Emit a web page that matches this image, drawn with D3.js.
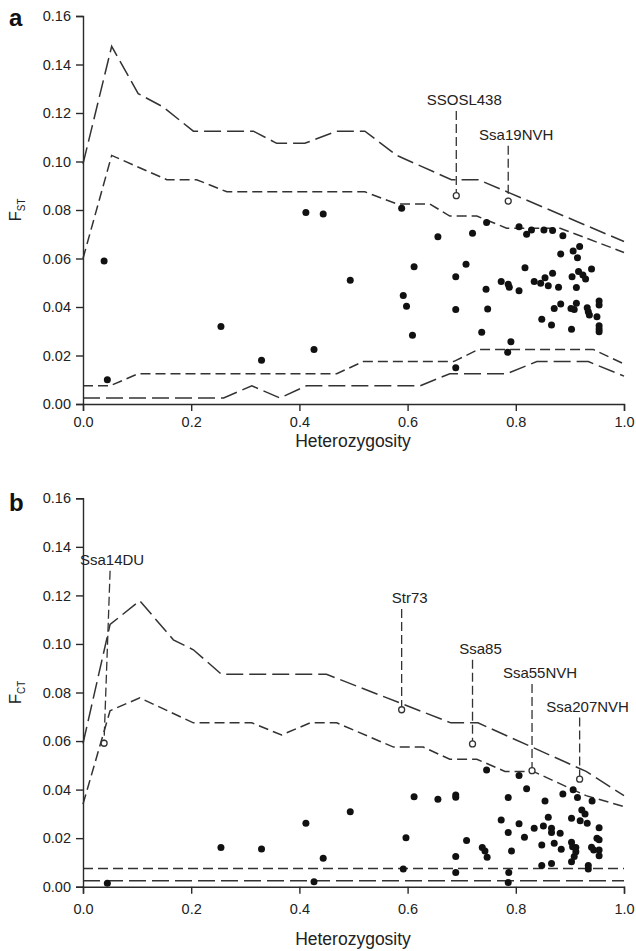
<!DOCTYPE html>
<html>
<head>
<meta charset="utf-8">
<script src="https://cdn.jsdelivr.net/npm/d3@7"></script>
<style>
body { margin: 0; background: #fff; }
svg text { font-family: "Liberation Sans", Arial, sans-serif; fill: #222; }
.axis path, .axis line { stroke: #2a2a2a; stroke-width: 1.4; }
.axis text { font-size: 14.5px; }
.thr { fill: none; stroke: #333; stroke-width: 1.5; }
.long { stroke-dasharray: 17,6; }
.short { stroke-dasharray: 10,5; }
.leader { stroke: #333; stroke-width: 1.3; stroke-dasharray: 9,4; }
</style>
</head>
<body>
<svg width="636" height="951"></svg>
<script>
// tick values
var xTicks = [0, 0.2, 0.4, 0.6, 0.8, 1.0];
var yTicks = [0, 0.02, 0.04, 0.06, 0.08, 0.10, 0.12, 0.14, 0.16];

// panel a: FST against heterozygosity
var hetA = [0.039, 0.045, 0.255, 0.330, 0.412, 0.427, 0.444, 0.494, 0.589, 0.592,
            0.598, 0.609, 0.612, 0.656, 0.689, 0.689, 0.689, 0.708, 0.720, 0.737,
            0.745, 0.746, 0.748, 0.773, 0.785, 0.786, 0.788, 0.791, 0.806, 0.806,
            0.817, 0.820, 0.829, 0.834, 0.846, 0.848, 0.852, 0.854, 0.860, 0.866,
            0.868, 0.868, 0.871, 0.879, 0.883, 0.883, 0.887, 0.902, 0.903, 0.904,
            0.906, 0.908, 0.912, 0.912, 0.914, 0.916, 0.918, 0.924, 0.929, 0.932,
            0.934, 0.936, 0.940, 0.950, 0.954, 0.954, 0.954, 0.954, 0.954];
var fstA = [0.0590, 0.0100, 0.0320, 0.0180, 0.0790, 0.0225, 0.0784, 0.0510, 0.0807, 0.0447,
            0.0403, 0.0283, 0.0566, 0.0690, 0.0525, 0.0390, 0.0150, 0.0576, 0.0704, 0.0296,
            0.0473, 0.0748, 0.0392, 0.0505, 0.0213, 0.0494, 0.0481, 0.0257, 0.0731, 0.0467,
            0.0562, 0.0700, 0.0718, 0.0505, 0.0498, 0.0350, 0.0718, 0.0521, 0.0488, 0.0326,
            0.0715, 0.0539, 0.0394, 0.0481, 0.0619, 0.0412, 0.0694, 0.0394, 0.0308, 0.0525,
            0.0631, 0.0390, 0.0480, 0.0415, 0.0603, 0.0546, 0.0649, 0.0532, 0.0515, 0.0397,
            0.0380, 0.0367, 0.0557, 0.0360, 0.0425, 0.0408, 0.0323, 0.0309, 0.0298];

var outlierNamesA = ["SSOSL438", "Ssa19NVH"];
var outlierHetA = [0.690, 0.786];
var outlierFstA = [0.0859, 0.0837];
var outlierLabelFstA = [0.1254, 0.1110];

// simulated quantile envelopes, panel a
var fstUpperLong = [[0, 0.099], [0.053, 0.1475], [0.102, 0.128], [0.148, 0.1225], [0.204, 0.1125],
  [0.315, 0.1125], [0.358, 0.1075], [0.41, 0.1075], [0.469, 0.1125], [0.521, 0.1125],
  [0.58, 0.1025], [0.681, 0.0925], [0.731, 0.0925], [1.0, 0.067]];
var fstUpperShort = [[0, 0.060], [0.053, 0.1025], [0.155, 0.0925], [0.21, 0.0925], [0.266, 0.0875],
  [0.521, 0.0875], [0.58, 0.0825], [0.641, 0.0825], [0.678, 0.0775], [0.728, 0.0775],
  [0.783, 0.0725], [0.882, 0.0725], [1.0, 0.0625]];
var fstLowerShort = [[0, 0.0075], [0.05, 0.0075], [0.102, 0.0125], [0.469, 0.0125], [0.518, 0.0175],
  [0.685, 0.0175], [0.731, 0.0225], [0.943, 0.0225], [1.0, 0.0165]];
var fstLowerLong = [[0, 0.0025], [0.26, 0.0025], [0.312, 0.0075], [0.364, 0.0025], [0.413, 0.0075],
  [0.623, 0.0075], [0.678, 0.0125], [0.783, 0.0125], [0.839, 0.0175], [0.934, 0.0175], [1.0, 0.0115]];

// panel b: FCT against heterozygosity
var hetB = [0.045, 0.255, 0.330, 0.412, 0.427, 0.444, 0.494, 0.592, 0.597, 0.612,
            0.656, 0.689, 0.689, 0.689, 0.689, 0.709, 0.738, 0.743, 0.747, 0.746,
            0.773, 0.786, 0.786, 0.792, 0.787, 0.786, 0.806, 0.806, 0.816, 0.820,
            0.834, 0.848, 0.848, 0.851, 0.854, 0.860, 0.866, 0.866, 0.866, 0.871,
            0.882, 0.884, 0.887, 0.903, 0.903, 0.903, 0.906, 0.908, 0.911, 0.911,
            0.914, 0.919, 0.922, 0.928, 0.932, 0.934, 0.934, 0.940, 0.941, 0.944,
            0.950, 0.954, 0.954, 0.954, 0.954, 0.905];
var fctB = [0.0014, 0.0161, 0.0155, 0.0261, 0.0020, 0.0117, 0.0309, 0.0073, 0.0202, 0.0371,
            0.0360, 0.0378, 0.0369, 0.0124, 0.0058, 0.0190, 0.0161, 0.0147, 0.0121, 0.0481,
            0.0275, 0.0367, 0.0223, 0.0147, 0.0059, 0.0017, 0.0458, 0.0259, 0.0204, 0.0403,
            0.0241, 0.0172, 0.0087, 0.0250, 0.0353, 0.0286, 0.0241, 0.0223, 0.0096, 0.0179,
            0.0220, 0.0154, 0.0382, 0.0282, 0.0183, 0.0103, 0.0399, 0.0124, 0.0161, 0.0144,
            0.0367, 0.0272, 0.0316, 0.0299, 0.0261, 0.0087, 0.0073, 0.0162, 0.0353, 0.0151,
            0.0200, 0.0193, 0.0243, 0.0151, 0.0127, 0.0165];

var outlierNamesB = ["Ssa14DU", "Str73", "Ssa85", "Ssa55NVH", "Ssa207NVH"];
var outlierHetB = [0.039, 0.589, 0.720, 0.830, 0.918];
var outlierFctB = [0.0591, 0.0729, 0.0588, 0.0478, 0.0443];
var outlierLabelFctB = [0.1347, 0.1189, 0.0980, 0.0880, 0.0742];

var fctUpperLong = [[0, 0.059], [0.05, 0.108], [0.105, 0.1178], [0.167, 0.1017], [0.204, 0.0976],
  [0.256, 0.0875], [0.45, 0.0875], [0.68, 0.0675], [0.73, 0.0675], [0.93, 0.0475], [1.0, 0.0375]];
var fctUpperShort = [[0, 0.034], [0.05, 0.0725], [0.105, 0.0778], [0.204, 0.0675], [0.312, 0.0675],
  [0.367, 0.0625], [0.42, 0.0675], [0.469, 0.0675], [0.574, 0.0575], [0.629, 0.0575],
  [0.678, 0.0525], [0.728, 0.0525], [0.78, 0.0475], [0.832, 0.0475], [0.93, 0.0375], [1.0, 0.033]];
var fctLowerShort = [[0, 0.0075], [1.0, 0.0075]];
var fctLowerLong = [[0, 0.0025], [1.0, 0.0025]];

var svg = d3.select("svg");

var x = d3.scaleLinear().domain([0, 1]).range([83, 624]);

function drawPanel(opt) {
  var y = d3.scaleLinear().domain([0, 0.16]).range([opt.bottom, opt.top]);
  var g = svg.append("g");

  var line = d3.line()
    .x(function(d) { return x(d[0]); })
    .y(function(d) { return y(d[1]); });

  opt.lines.forEach(function(l) {
    g.append("path")
      .attr("class", "thr " + l.kind)
      .attr("d", line(l.data));
  });

  // leaders and labels for outlier loci
  opt.names.forEach(function(name, i) {
    var cx = x(opt.oHet[i]), cy = y(opt.oVal[i]);
    var ly = y(opt.oLab[i]);
    // first leader (Ssa14DU) leans a little toward its label
    var topX = (opt.oHet[i] < 0.1) ? cx + 6 : cx;
    g.append("line")
      .attr("class", "leader")
      .attr("x1", topX).attr("x2", cx)
      .attr("y1", ly + 11).attr("y2", cy - 3);
    g.append("text")
      .attr("x", cx + 8)
      .attr("y", ly + 5)
      .attr("text-anchor", "middle")
      .style("font-size", "15px")
      .text(name);
    g.append("circle")
      .attr("cx", cx).attr("cy", cy).attr("r", 3)
      .attr("fill", "#fff").attr("stroke", "#333").attr("stroke-width", 1.3);
  });

  g.selectAll(".dot")
    .data(opt.het)
    .enter().append("circle")
    .attr("class", "dot")
    .attr("cx", function(d) { return x(d); })
    .attr("cy", function(d, i) { return y(opt.val[i]); })
    .attr("r", 3.5)
    .attr("fill", "#111");

  g.append("g")
    .attr("class", "axis")
    .attr("transform", "translate(83,0)")
    .call(d3.axisLeft(y).tickValues(yTicks).tickFormat(d3.format(".2f")).tickSize(7).tickPadding(5));

  g.append("g")
    .attr("class", "axis")
    .attr("transform", "translate(0," + opt.bottom + ")")
    .call(d3.axisBottom(x).tickValues(xTicks).tickFormat(d3.format(".1f")).tickSize(7).tickPadding(opt.xPad));

  g.append("text")
    .attr("x", 353)
    .attr("y", opt.titleY)
    .attr("text-anchor", "middle")
    .style("font-size", "17.5px")
    .text("Heterozygosity");

  var yl = g.append("text")
    .attr("transform", "translate(21," + ((opt.top + opt.bottom) / 2) + ") rotate(-90)")
    .attr("text-anchor", "middle")
    .style("font-size", "17px");
  yl.append("tspan").text("F");
  yl.append("tspan").attr("dy", 4).style("font-size", "10px").text(opt.sub);

  g.append("text")
    .attr("x", 9)
    .attr("y", opt.top + opt.letterDy)
    .style("font-size", "24px")
    .style("font-weight", "bold")
    .style("fill", "#111")
    .text(opt.letter);
}

drawPanel({
  top: 16, bottom: 404, xPad: 6, titleY: 447, letter: "a", letterDy: 10, sub: "ST",
  het: hetA, val: fstA,
  names: outlierNamesA, oHet: outlierHetA, oVal: outlierFstA, oLab: outlierLabelFstA,
  lines: [
    { data: fstUpperLong, kind: "long" },
    { data: fstUpperShort, kind: "short" },
    { data: fstLowerShort, kind: "short" },
    { data: fstLowerLong, kind: "long" }
  ]
});

drawPanel({
  top: 498.3, bottom: 886.7, xPad: 10, titleY: 945, letter: "b", letterDy: 13, sub: "CT",
  het: hetB, val: fctB,
  names: outlierNamesB, oHet: outlierHetB, oVal: outlierFctB, oLab: outlierLabelFctB,
  lines: [
    { data: fctUpperLong, kind: "long" },
    { data: fctUpperShort, kind: "short" },
    { data: fctLowerShort, kind: "short" },
    { data: fctLowerLong, kind: "long" }
  ]
});
</script>
</body>
</html>
